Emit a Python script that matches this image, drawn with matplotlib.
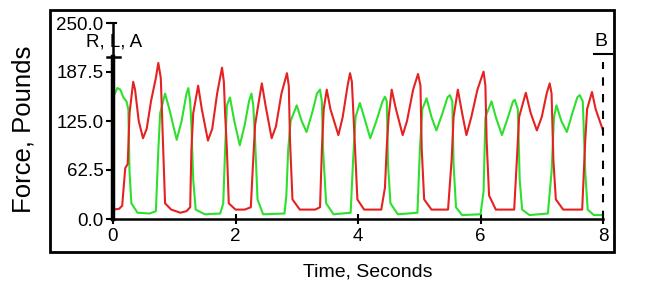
import matplotlib.pyplot as plt
from matplotlib.patches import Rectangle

plt.rcParams['font.family'] = ['Liberation Sans', 'DejaVu Sans']

# Force traces (time in s, force in lb)
red_time = [0.00, 0.10, 0.15, 0.20, 0.24, 0.27, 0.33, 0.36, 0.42, 0.49, 0.55, 0.62, 0.70, 0.74, 0.78,
            0.80, 0.82, 0.85, 0.95, 1.10, 1.20, 1.26, 1.28, 1.31, 1.39, 1.45, 1.55, 1.62, 1.70, 1.78,
            1.81, 1.83, 1.86, 1.89, 2.00, 2.15, 2.25, 2.28, 2.32, 2.36, 2.43, 2.49, 2.59, 2.66, 2.75,
            2.84, 2.87, 2.89, 2.93, 3.05, 3.30, 3.38, 3.41, 3.44, 3.49, 3.55, 3.68, 3.75, 3.83, 3.87,
            3.90, 3.95, 3.99, 4.10, 4.38, 4.44, 4.47, 4.50, 4.55, 4.62, 4.73, 4.80, 4.90, 4.98, 5.02,
            5.04, 5.08, 5.20, 5.47, 5.53, 5.56, 5.63, 5.70, 5.77, 5.85, 5.95, 6.05, 6.08, 6.10, 6.14,
            6.25, 6.55, 6.59, 6.63, 6.74, 6.82, 6.92, 7.00, 7.08, 7.13, 7.16, 7.19, 7.23, 7.35, 7.66,
            7.71, 7.74, 7.82, 7.88, 8.00]
red_force = [12, 13, 17, 65, 70, 135, 175, 165, 125, 103, 115, 150, 180, 199, 180,
             135, 88, 20, 12, 8, 10, 15, 88, 135, 170, 140, 100, 115, 160, 193,
             175, 135, 88, 20, 12, 12, 15, 62, 120, 140, 173, 145, 103, 118, 160,
             186, 170, 100, 25, 12, 12, 15, 88, 140, 165, 140, 107, 130, 170, 186,
             175, 93, 25, 12, 12, 40, 93, 130, 165, 140, 107, 125, 165, 185, 170,
             90, 25, 12, 12, 77, 130, 165, 135, 107, 130, 165, 188, 170, 100, 30,
             12, 12, 70, 130, 161, 135, 113, 130, 160, 173, 160, 75, 25, 12, 12,
             100, 140, 162, 140, 113]

green_time = [0.00, 0.03, 0.07, 0.12, 0.17, 0.22, 0.25, 0.27, 0.30, 0.40, 0.60, 0.70, 0.74, 0.77, 0.85,
              0.92, 1.04, 1.12, 1.20, 1.23, 1.26, 1.28, 1.31, 1.35, 1.50, 1.75, 1.80, 1.83, 1.86, 1.91,
              1.98, 2.07, 2.15, 2.22, 2.26, 2.29, 2.32, 2.36, 2.45, 2.80, 2.83, 2.86, 2.90, 3.00, 3.08,
              3.16, 3.25, 3.33, 3.38, 3.41, 3.43, 3.48, 3.60, 3.88, 3.92, 3.96, 4.03, 4.10, 4.20, 4.30,
              4.40, 4.44, 4.47, 4.49, 4.53, 4.65, 4.97, 5.01, 5.05, 5.12, 5.20, 5.28, 5.38, 5.46, 5.50,
              5.54, 5.56, 5.60, 5.70, 6.00, 6.05, 6.08, 6.18, 6.25, 6.35, 6.45, 6.53, 6.56, 6.61, 6.64,
              6.68, 6.80, 7.10, 7.16, 7.20, 7.24, 7.32, 7.41, 7.50, 7.58, 7.62, 7.67, 7.71, 7.75, 7.85,
              8.00]
green_force = [155, 160, 167, 165, 155, 150, 140, 60, 20, 8, 7, 10, 88, 135, 160,
               140, 101, 125, 160, 167, 150, 120, 50, 12, 6, 7, 20, 88, 145, 155,
               125, 94, 120, 150, 160, 145, 100, 25, 6, 7, 30, 88, 125, 145, 125,
               111, 135, 160, 165, 150, 88, 20, 6, 8, 75, 130, 148, 130, 103, 125,
               150, 156, 150, 70, 20, 6, 8, 88, 140, 154, 130, 113, 135, 155, 158,
               150, 70, 15, 5, 6, 35, 130, 150, 130, 107, 130, 150, 152, 140, 50,
               12, 5, 7, 60, 130, 145, 125, 111, 135, 155, 158, 150, 60, 12, 5,
               5]

y_ticks = [0, 62.5, 125, 187.5, 250]
y_ticklabels = ['0.0', '62.5', '125.0', '187.5', '250.0']
x_ticks = [0, 2, 4, 6, 8]

fig = plt.figure(figsize=(6.63, 2.98), dpi=100)
ax = fig.add_axes([113/663, 1 - 219/298, 490/663, 196/298])

ax.plot(green_time, green_force, color='#2ee02e', lw=1.5, zorder=3)
ax.plot(red_time, red_force, color='#e52222', lw=1.5, zorder=4)

ax.set_xlim(0, 8)
ax.set_ylim(0, 250)
ax.set_xticks(x_ticks)
ax.set_yticks(y_ticks)
ax.set_yticklabels(y_ticklabels)
ax.tick_params(axis='both', labelsize=13.5, length=5, width=1.5, colors='black', pad=2)
ax.tick_params(axis='x', direction='inout', length=7, pad=3)
for s in ['top', 'right']:
    ax.spines[s].set_visible(False)
for s in ['left', 'bottom']:
    ax.spines[s].set_linewidth(1.8)

# cursor A at the left edge
ax.plot([0, 0], [0, 206], color='black', lw=3.2, clip_on=False, zorder=5)
ax.plot([-0.05, 0.05], [250, 250], color='black', lw=1.5, clip_on=False)
ax.plot([-0.1, 0.12], [206, 206], color='black', lw=1.8, clip_on=False)
ax.text(0.02, 226, 'R, L, A', fontsize=13.5, ha='center', va='center', clip_on=False)

# cursor B at the right edge
ax.plot([8, 8], [0, 200], color='black', lw=1.5, ls=(0, (4, 4)), clip_on=False, zorder=5)
ax.plot([7.85, 8.15], [210, 210], color='black', lw=1.5, clip_on=False)
ax.text(7.97, 226, 'B', fontsize=14, ha='center', va='center', clip_on=False)

# outer frame
fig.patches.append(Rectangle((50/663, 1 - 252/298), 564/663, 242/298, transform=fig.transFigure,
                             fill=False, edgecolor='black', lw=2))

fig.text(24/663, 1 - 129/298, 'Force, Pounds', rotation=90, fontsize=18.5,
         ha='center', va='center')
fig.text(368/663, 1 - 272/298, 'Time, Seconds', fontsize=14, ha='center', va='center')

fig.savefig('out.png', dpi=100)
